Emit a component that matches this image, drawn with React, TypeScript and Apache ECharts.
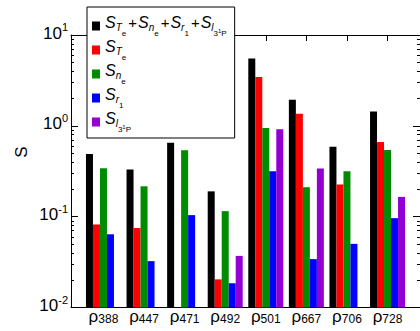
import React, { useEffect, useRef } from "react";
import * as echarts from "echarts";

const categories = ["388", "447", "471", "492", "501", "667", "706", "728"];
const positions = [1, 2, 3, 4, 5, 6, 7, 8];
const sTotal = [0.49, 0.33, 0.65, 0.19, 5.5, 1.94, 0.59, 1.44];
const sT = [0.082, 0.075, null, 0.0204, 3.44, 1.36, 0.226, 0.664];
const sN = [0.341, 0.216, 0.538, 0.115, 0.946, 0.211, 0.316, 0.542];
const sR = [0.064, 0.0324, 0.104, 0.0185, 0.316, 0.0341, 0.0502, 0.0963];
const sL = [null, null, null, 0.037, 0.915, 0.339, null, 0.165];
const yTicks = [0.01, 0.1, 1, 10];
const minorLogTicks: number[] = [];
for (let d = -2; d < 1; d++) {
  for (let k = 2; k <= 9; k++) minorLogTicks.push(d + Math.log10(k));
}

const FONT = "'Liberation Sans', Arial, Helvetica, sans-serif";

const seriesDefs = [
  { name: "all", color: "#000000", data: sTotal },
  { name: "T", color: "#ff0000", data: sT },
  { name: "n", color: "#008b00", data: sN },
  { name: "r", color: "#0000ff", data: sR },
  { name: "l", color: "#9400d3", data: sL },
];

const legendText: Record<string, string> = {
  all: "{S|S}{a|T}{b|e}{p|+}{S|S}{a|n}{b|e}{p|+}{S|S}{a|r}{b|1}{p|+}{S|S}{a|l}{b|3}{c|1}{b|P}",
  T: "{S|S}{a|T}{b|e}",
  n: "{S|S}{a|n}{b|e}",
  r: "{S|S}{a|r}{b|1}",
  l: "{S|S}{a|l}{b|3}{c|1}{b|P}",
};

export default function App() {
  const ref = useRef<HTMLDivElement>(null);
  useEffect(() => {
    if (!ref.current) return;
    const chart = echarts.init(ref.current, undefined, { renderer: "svg" });
    const axisLine = { show: true, onZero: false, lineStyle: { color: "#000", width: 1 } };
    const option: any = {
      animation: false,
      textStyle: { fontFamily: FONT },
      grid: { left: 71, right: 0, top: 35, bottom: 23.5, containLabel: false },
      xAxis: [
        {
          type: "value",
          position: "bottom",
          min: 0.2,
          max: 8.8,
          axisLine,
          splitLine: { show: false },
          axisTick: { show: true, inside: true, length: 6, customValues: positions, lineStyle: { color: "#000" } },
          axisLabel: {
            show: true,
            customValues: positions,
            margin: 1,
            formatter: (v: number) => `{r|ρ}{s|${categories[Math.round(v) - 1]}}`,
            rich: {
              r: { fontSize: 17, lineHeight: 16, color: "#000", fontFamily: FONT },
              s: { fontSize: 12, lineHeight: 3, verticalAlign: "bottom", color: "#000", fontFamily: FONT },
            },
          },
        },
        {
          type: "value",
          position: "top",
          min: 0.2,
          max: 8.8,
          axisLine,
          splitLine: { show: false },
          axisTick: { show: true, inside: true, length: 6, customValues: positions, lineStyle: { color: "#000" } },
          axisLabel: { show: false },
        },
      ],
      yAxis: [
        {
          type: "log",
          logBase: 10,
          min: 0.01,
          max: 10,
          startValue: 0.01,
          position: "left",
          axisLine,
          splitLine: { show: false },
          axisTick: { show: true, inside: true, length: 7, customValues: yTicks, lineStyle: { color: "#000" } },
          axisLabel: {
            show: true,
            customValues: yTicks,
            margin: 3,
            padding: [0, 0, 7, 0],
            formatter: (v: number) => `{t|10}{u|${Math.round(Math.log10(v))}}`,
            rich: {
              t: { fontSize: 17, lineHeight: 20, verticalAlign: "bottom", color: "#000", fontFamily: FONT },
              u: { fontSize: 11, lineHeight: 12, verticalAlign: "top", color: "#000", fontFamily: FONT },
            },
          },
        },
        {
          type: "log",
          logBase: 10,
          min: 0.01,
          max: 10,
          position: "right",
          axisLine,
          splitLine: { show: false },
          axisTick: { show: true, inside: true, length: 7, customValues: yTicks, lineStyle: { color: "#000" } },
          axisLabel: { show: false },
        },
        {
          type: "value",
          min: -2,
          max: 1,
          position: "left",
          axisLine: { show: false, onZero: false },
          splitLine: { show: false },
          axisTick: { show: true, inside: true, length: 3, customValues: minorLogTicks, lineStyle: { color: "#000" } },
          axisLabel: { show: false },
        },
        {
          type: "value",
          min: -2,
          max: 1,
          position: "right",
          axisLine: { show: false, onZero: false },
          splitLine: { show: false },
          axisTick: { show: true, inside: true, length: 3, customValues: minorLogTicks, lineStyle: { color: "#000" } },
          axisLabel: { show: false },
        },
      ],
      legend: {
        show: true,
        orient: "vertical",
        left: 87,
        top: 7,
        padding: [7, 8, 4, 5],
        itemGap: 0,
        itemWidth: 8,
        itemHeight: 9,
        icon: "rect",
        backgroundColor: "#fff",
        borderColor: "#000",
        borderWidth: 1,
        selectedMode: false,
        data: seriesDefs.map((s) => s.name),
        formatter: (name: string) => legendText[name],
        textStyle: {
          rich: {
            S: { fontSize: 16, fontStyle: "italic", lineHeight: 24, padding: [0, 0, 8, 0], color: "#000", fontFamily: FONT },
            a: { fontSize: 10, fontStyle: "italic", lineHeight: 24, padding: [3.4, 0, 0, 0], color: "#000", fontFamily: FONT },
            b: { fontSize: 8, lineHeight: 24, padding: [15, 0, 0, 0], color: "#000", fontFamily: FONT },
            c: { fontSize: 6, lineHeight: 24, padding: [10, 0, 0, 0], color: "#000", fontFamily: FONT },
            p: { fontSize: 15, lineHeight: 24, padding: [0, 1, 8, 2], color: "#000", fontFamily: FONT },
          },
        },
      },
      graphic: [
        {
          type: "text",
          x: 21,
          y: 152,
          rotation: Math.PI / 2,
          style: { text: "S", fontSize: 17, fontFamily: FONT, fill: "#000", textAlign: "center", textVerticalAlign: "middle" },
        },
      ],
      series: seriesDefs.map((s) => ({
        name: s.name,
        type: "bar",
        xAxisIndex: 0,
        yAxisIndex: 0,
        barWidth: 7,
        barGap: "0%",
        itemStyle: { color: s.color },
        data: s.data.map((v, i) => [positions[i], v]),
      })),
    };
    chart.setOption(option);
    return () => chart.dispose();
  }, []);
  return <div ref={ref} style={{ position: "absolute", left: 0, top: 0, width: 420, height: 331 }} />;
}
